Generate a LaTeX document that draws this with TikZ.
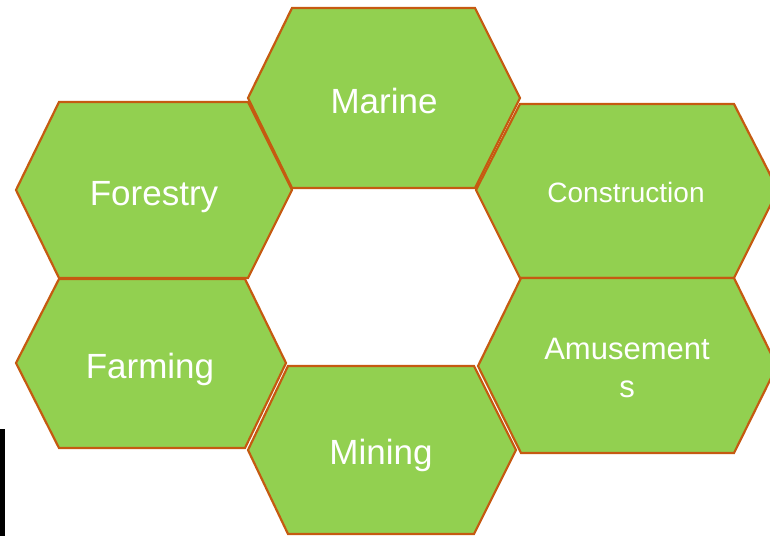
\documentclass[tikz,border=0pt]{standalone}
\usepackage{fontspec}
\setmainfont{Liberation Sans}
\definecolor{hexfill}{HTML}{92D050}
\definecolor{hexline}{HTML}{C55A11}
\begin{document}
\begin{tikzpicture}[x=1pt,y=-1pt,
  hexagon/.style={fill=hexfill,draw=hexline,line width=2.2pt,line join=miter},
  lbl/.style={text=white,align=center,inner sep=0pt,anchor=base,font=\fontsize{35}{40}\selectfont}]
\path[use as bounding box] (0,0) rectangle (770,536);
\clip (0,0) rectangle (770,536);
% Forestry
\draw[hexagon] (16,190) -- (59,102) -- (248,102) -- (292,190) -- (248,278) -- (59,278) -- cycle;
% Marine
\draw[hexagon] (248,98) -- (292,8) -- (475,8) -- (520,98) -- (475,188) -- (292,188) -- cycle;
% Construction
\draw[hexagon] (476,190) -- (520,104) -- (734,104) -- (778,190) -- (734,278) -- (520,278) -- cycle;
% Farming
\draw[hexagon] (16,363) -- (59,279) -- (245,279) -- (286,363) -- (245,448) -- (59,448) -- cycle;
% Mining
\draw[hexagon] (248,450) -- (288,366) -- (474,366) -- (516,450) -- (474,534) -- (288,534) -- cycle;
% Amusements
\draw[hexagon] (478,366) -- (521,278) -- (734,278) -- (777,366) -- (734,453) -- (521,453) -- cycle;
% black bar
\fill[black] (0,429) rectangle (5,536);
\node[lbl] (marine) at (384,113) {Marine};
\node[lbl] (forestry) at (154,205) {Forestry};
\node[lbl,font=\fontsize{28}{32}\selectfont] (construction) at (626,202) {Construction};
\node[lbl] (farming) at (150,378) {Farming};
\node[lbl] (mining) at (381,464) {Mining};
\node[lbl,font=\fontsize{31}{38}\selectfont] (amusements) at (627,397) {Amusement\\s};
\end{tikzpicture}
\end{document}
